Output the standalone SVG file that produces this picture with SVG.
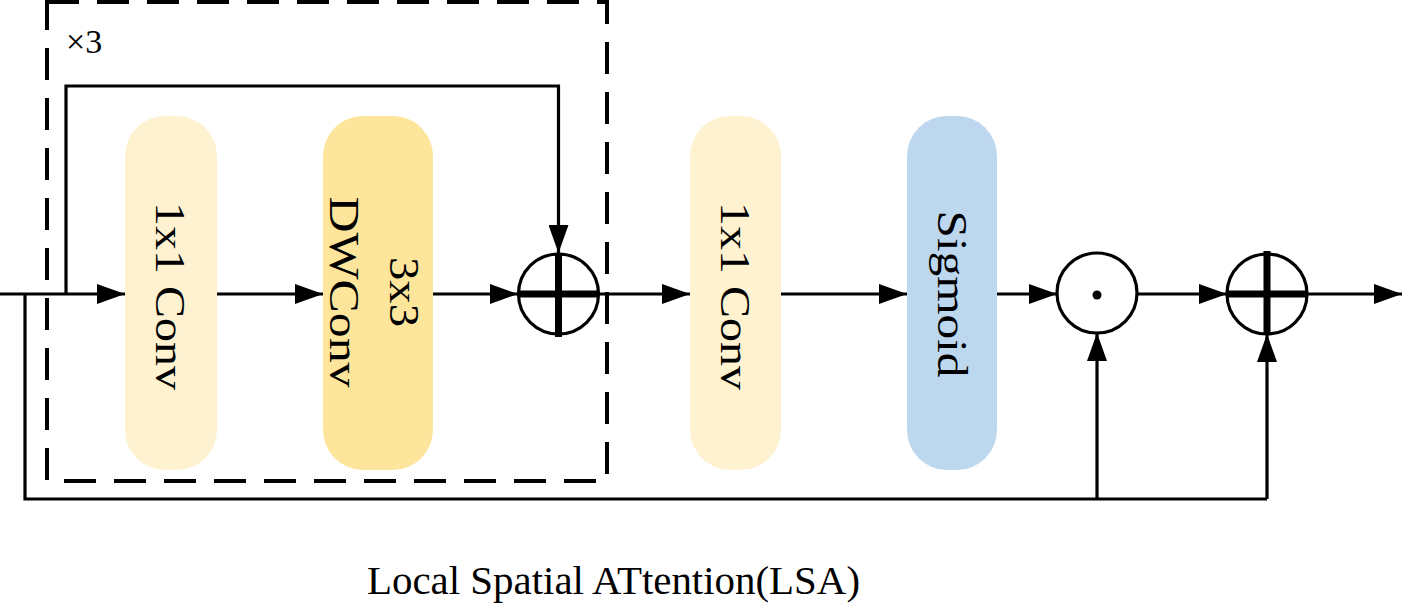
<svg xmlns="http://www.w3.org/2000/svg" width="1405" height="616" viewBox="0 0 1405 616">
<style>
.ln{fill:none;stroke:#000;stroke-width:3.2}
.lbl{font-family:"Liberation Serif","Times New Roman",serif;font-size:42px;fill:#000;text-anchor:middle}
.op{fill:#fff;stroke:#000;stroke-width:3.2}
.bar{stroke:#000;stroke-width:7;fill:none}
</style>
<defs>
<marker id="ah" viewBox="0 0 28 20" refX="28" refY="10" markerWidth="28" markerHeight="20" markerUnits="userSpaceOnUse" orient="auto">
<path d="M0,0 L28,10 L0,20 Z" fill="#000"/>
</marker>
</defs>
<rect width="1405" height="616" fill="#fff"/>
<g id="repeat-box">
<rect x="47" y="2" width="560" height="479" fill="none" stroke="#000" stroke-width="4" stroke-dasharray="32 18"/>
<text x="66" y="53" style="font-family:'Liberation Serif','Times New Roman',serif;font-size:34px">×3</text>
</g>
<g id="conv1">
<rect x="125" y="116" width="92" height="354" rx="40" fill="#FEF2D1"/>
<text class="lbl" transform="translate(170,296) rotate(90)" x="0" y="14" textLength="188" lengthAdjust="spacingAndGlyphs">1x1 Conv</text>
</g>
<g id="dwconv">
<rect x="323" y="116" width="110" height="354" rx="40" fill="#FDE59B"/>
<text class="lbl" transform="translate(378,292) rotate(90)" x="0" y="-12" textLength="70" lengthAdjust="spacingAndGlyphs">3x3</text>
<text class="lbl" transform="translate(378,292) rotate(90)" x="0" y="48" textLength="191" lengthAdjust="spacingAndGlyphs">DWConv</text>
</g>
<g id="add1">
<circle class="op" cx="558.5" cy="294" r="40"/>
<line class="bar" x1="518.5" y1="294" x2="598.5" y2="294"/>
<line class="bar" x1="558.5" y1="254" x2="558.5" y2="337"/>
</g>
<g id="conv2">
<rect x="690" y="116" width="91" height="354" rx="40" fill="#FEF2D1"/>
<text class="lbl" transform="translate(735,296) rotate(90)" x="0" y="14" textLength="188" lengthAdjust="spacingAndGlyphs">1x1 Conv</text>
</g>
<g id="sigmoid">
<rect x="907" y="116" width="90" height="354" rx="40" fill="#BDD7EE"/>
<text class="lbl" transform="translate(952,294) rotate(90)" x="0" y="14" textLength="167" lengthAdjust="spacingAndGlyphs">Sigmoid</text>
</g>
<g id="mul">
<circle class="op" cx="1097" cy="293" r="40"/>
<circle cx="1097" cy="295" r="4.5" fill="#000"/>
</g>
<g id="add2">
<circle class="op" cx="1267" cy="294" r="40"/>
<line class="bar" x1="1227" y1="294" x2="1307" y2="294"/>
<line class="bar" x1="1267" y1="251" x2="1267" y2="334"/>
</g>
<g id="connectors">
<line class="ln" x1="0" y1="294" x2="125" y2="294" marker-end="url(#ah)"/>
<polyline class="ln" points="66,294 66,86 558.5,86 558.5,253" marker-end="url(#ah)"/>
<line class="ln" x1="217" y1="294" x2="323" y2="294" marker-end="url(#ah)"/>
<line class="ln" x1="433" y1="294" x2="518" y2="294" marker-end="url(#ah)"/>
<line class="ln" x1="599" y1="294" x2="690" y2="294" marker-end="url(#ah)"/>
<line class="ln" x1="781" y1="294" x2="907" y2="294" marker-end="url(#ah)"/>
<line class="ln" x1="997" y1="294" x2="1057" y2="294" marker-end="url(#ah)"/>
<line class="ln" x1="1137" y1="294" x2="1227" y2="294" marker-end="url(#ah)"/>
<line class="ln" x1="1307" y1="294" x2="1402" y2="294" marker-end="url(#ah)"/>
<polyline class="ln" points="25,294 25,499 1267,499"/>
<line class="ln" x1="1097" y1="499" x2="1097" y2="333" marker-end="url(#ah)"/>
<line class="ln" x1="1267" y1="499" x2="1267" y2="334" marker-end="url(#ah)"/>
</g>
<text x="367" y="594" style="font-family:'Liberation Serif','Times New Roman',serif;font-size:39px" textLength="493" lengthAdjust="spacingAndGlyphs">Local Spatial ATtention(LSA)</text>
</svg>
